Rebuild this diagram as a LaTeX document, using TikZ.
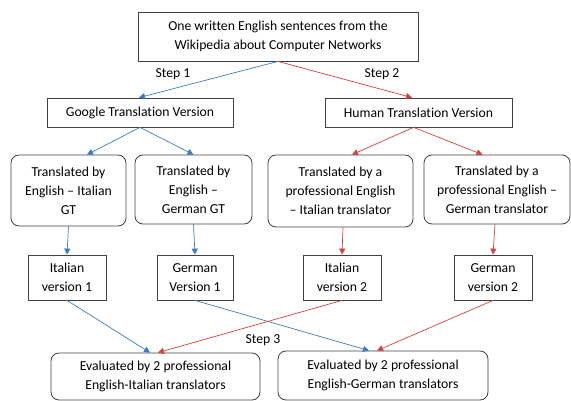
\documentclass[tikz,border=0pt]{standalone}
\usepackage{fontspec}
\setmainfont{Carlito}[Ligatures=NoCommon]
\usetikzlibrary{arrows.meta}
\definecolor{arrblue}{RGB}{58,125,196}
\definecolor{arrred}{RGB}{214,66,60}
\definecolor{boxline}{RGB}{64,64,64}

\begin{document}
\begin{tikzpicture}[x=1pt, y=-1pt,
  every node/.style={font=\fontsize{13.7}{18.8}\selectfont, align=center, inner sep=0pt},
  sqbox/.style={draw=boxline, line width=0.8pt},
  rdbox/.style={draw=boxline, line width=0.8pt, rounded corners=8pt},
  bluearr/.style={arrblue, line width=0.7pt, -{Triangle[length=6pt,width=6pt]}},
  redarr/.style={arrred, line width=0.7pt, -{Triangle[length=6pt,width=6pt]}}]

\useasboundingbox (0,0) rectangle (571,401);

\node[sqbox, minimum width=280pt, minimum height=49pt] (src) at (278,36.5) {One written English sentences from the\\Wikipedia about Computer Networks};

\node[sqbox, minimum width=186pt, minimum height=29pt] (gtv) at (140,112.5) {Google Translation Version};
\node[sqbox, minimum width=187pt, minimum height=29pt] (htv) at (418.5,112.5) {Human Translation Version};

\node[rdbox, minimum width=115pt, minimum height=71pt] (gtit) at (68.5,190.5) {Translated by\\English -- Italian\\GT};
\node[rdbox, minimum width=117pt, minimum height=69pt] (gtde) at (193.5,189.5) {Translated by\\English --\\German GT};
\node[rdbox, minimum width=145pt, minimum height=72pt] (htit) at (340.5,191) {Translated by a\\professional English\\-- Italian translator};
\node[rdbox, minimum width=146pt, minimum height=69pt] (htde) at (497,189.5) {Translated by a\\professional English --\\German translator};

\node[sqbox, minimum width=78pt, minimum height=45pt] (it1) at (67,277.5) {Italian\\version 1};
\node[sqbox, minimum width=76pt, minimum height=45pt] (de1) at (195,277.5) {German\\Version 1};
\node[sqbox, minimum width=78pt, minimum height=45pt] (it2) at (342,277.5) {Italian\\version 2};
\node[sqbox, minimum width=78pt, minimum height=45pt] (de2) at (493,277.5) {German\\version 2};

\node[rdbox, minimum width=209pt, minimum height=47pt] (ev1) at (155.5,376.5) {Evaluated by 2 professional\\English-Italian translators};
\node[rdbox, minimum width=210pt, minimum height=49pt] (ev2) at (383,375.5) {Evaluated by 2 professional\\English-German translators};

\node (st1) at (173,74) {Step 1};
\node (st2) at (382,74) {Step 2};
\node (st3) at (263,340) {Step 3};

% machine translation path
\foreach \a/\b/\s in {src/gtv/-1, gtv/gtit/18.5, gtv/gtde/0, gtit/it1/0, gtde/de1/0, it1/ev1/-5.5, de1/ev2/-14}
\draw[bluearr] (\a.south) -- ([xshift=\s]\b.north);

% human translation path
\foreach \a/\b/\s in {src/htv/-6.5, it2/ev1/2.5, de2/ev2/-6}
\draw[redarr] (\a.south) -- ([xshift=\s]\b.north);
\foreach \b/\s in {htit/11.5, htde/-14.5}
\draw[redarr] ([xshift=-5]htv.south) -- ([xshift=\s]\b.north);
\draw[redarr] ([xshift=2.5]htit.south) -- (it2.north);
\draw[redarr] ([xshift=-2]htde.south) -- (de2.north);

\end{tikzpicture}
\end{document}
